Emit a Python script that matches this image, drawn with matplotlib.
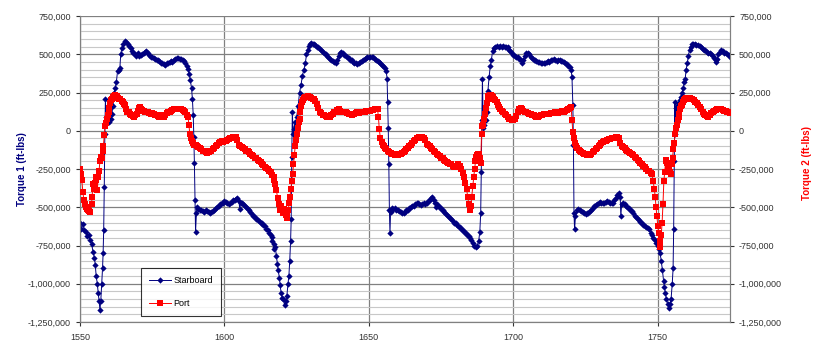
import numpy as np
from matplotlib import pyplot as plt
from matplotlib.ticker import MultipleLocator, FuncFormatter

plt.rcParams["font.family"] = ["Liberation Sans", "DejaVu Sans"]

# starboard torque, (sample, ft-lbs / 1000)
starboard_pts = [
	(1550.0,-600),(1550.5,-640),(1551.0,-610),(1551.5,-650),(1552.0,-660),(1552.5,-690),(1553.0,-680),
	(1553.5,-715),(1554.0,-740),(1554.5,-790),(1555.0,-830),(1555.3,-880),(1555.6,-950),(1556.0,-1000),
	(1556.3,-1060),(1556.6,-1110),(1556.9,-1170),(1557.2,-1110),(1557.5,-1000),(1557.8,-900),(1558.0,-800),
	(1558.2,-650),(1558.4,-370),(1558.6,-20),(1558.8,210),(1559.0,90),(1559.4,60),(1559.8,90),(1560.2,60),
	(1560.6,80),(1561.0,110),(1561.4,160),(1561.8,250),(1562.2,280),(1562.6,320),(1563.0,390),(1563.4,400),
	(1563.8,410),(1564.1,500),(1564.5,540),(1565.0,570),(1565.5,585),(1566.0,580),(1566.5,565),(1567.0,555),
	(1567.5,540),(1568.0,520),(1568.5,510),(1569.0,500),(1569.5,490),(1570.0,505),(1570.5,490),(1571.0,495),
	(1571.5,500),(1572.0,505),(1572.5,515),(1573.0,520),(1573.5,510),(1574.0,495),(1574.5,485),(1575.0,480),
	(1575.5,475),(1576.0,470),(1576.5,465),(1577.0,460),(1577.5,455),(1578.0,445),(1578.5,440),(1579.0,435),
	(1579.5,430),(1580.0,440),(1580.5,445),(1581.0,450),(1581.5,455),(1582.0,450),(1582.5,460),(1583.0,470),
	(1583.5,478),(1584.0,475),(1584.5,470),(1585.0,468),(1585.5,465),(1586.0,455),(1586.5,440),(1587.0,420),
	(1587.4,405),(1587.8,370),(1588.2,330),(1588.6,280),(1588.9,210),(1589.2,100),(1589.4,-40),(1589.6,-210),
	(1589.8,-450),(1590.0,-660),(1590.3,-540),(1590.6,-500),(1591.0,-510),(1591.5,-520),(1592.0,-515),
	(1592.5,-525),(1593.0,-530),(1593.5,-520),(1594.0,-525),(1594.5,-530),(1595.0,-535),(1595.5,-530),
	(1596.0,-525),(1596.5,-515),(1597.0,-505),(1597.5,-500),(1598.0,-495),(1598.5,-480),(1599.0,-475),
	(1599.5,-470),(1600.0,-460),(1600.5,-465),(1601.0,-470),(1601.5,-480),(1602.0,-475),(1602.5,-465),
	(1603.0,-455),(1603.5,-450),(1604.0,-445),(1604.5,-440),(1605.0,-460),(1605.3,-510),(1605.6,-470),
	(1606.0,-470),(1606.5,-480),(1607.0,-490),(1607.5,-500),(1608.0,-510),(1608.5,-520),(1609.0,-530),
	(1609.5,-545),(1610.0,-555),(1610.5,-565),(1611.0,-575),(1611.5,-585),(1612.0,-590),(1612.5,-600),
	(1613.0,-605),(1613.5,-615),(1614.0,-625),(1614.5,-640),(1615.0,-650),(1615.5,-665),(1616.0,-680),
	(1616.3,-720),(1616.6,-695),(1617.0,-740),(1617.3,-770),(1617.6,-760),(1618.0,-820),(1618.3,-870),
	(1618.6,-910),(1619.0,-960),(1619.3,-1010),(1619.6,-1060),(1620.0,-1090),(1620.4,-1100),(1620.8,-1140),
	(1621.2,-1110),(1621.6,-1080),(1622.0,-1000),(1622.3,-950),(1622.6,-850),(1622.9,-720),(1623.1,-580),
	(1623.3,-170),(1623.5,120),(1623.8,-20),(1624.1,10),(1624.4,60),(1624.7,30),(1625.0,90),(1625.5,160),
	(1626.0,250),(1626.5,300),(1627.0,360),(1627.5,400),(1628.0,440),(1628.4,500),(1628.8,530),(1629.2,555),
	(1629.6,570),(1630.0,575),(1630.5,570),(1631.0,565),(1631.5,560),(1632.0,550),(1632.5,545),(1633.0,535),
	(1633.5,525),(1634.0,515),(1634.5,505),(1635.0,500),(1635.5,490),(1636.0,480),(1636.5,470),(1637.0,460),
	(1637.5,455),(1638.0,450),(1638.5,440),(1639.0,460),(1639.5,490),(1640.0,510),(1640.5,515),(1641.0,510),
	(1641.5,495),(1642.0,490),(1642.5,480),(1643.0,475),(1643.5,465),(1644.0,460),(1644.5,450),(1645.0,445),
	(1645.5,440),(1646.0,435),(1646.5,440),(1647.0,450),(1647.5,455),(1648.0,465),(1648.5,470),(1649.0,475),
	(1649.5,480),(1650.0,485),(1650.5,480),(1651.0,485),(1651.5,480),(1652.0,470),(1652.5,460),(1653.0,455),
	(1653.5,450),(1654.0,445),(1654.5,430),(1655.0,420),(1655.5,410),(1656.0,390),(1656.3,340),(1656.5,190),
	(1656.7,20),(1656.9,-220),(1657.1,-520),(1657.3,-670),(1657.5,-530),(1658.0,-505),(1658.5,-510),
	(1659.0,-505),(1659.5,-515),(1660.0,-520),(1660.5,-525),(1661.0,-530),(1661.5,-535),(1662.0,-535),
	(1662.5,-530),(1663.0,-520),(1663.5,-515),(1664.0,-505),(1664.5,-500),(1665.0,-495),(1665.5,-490),
	(1666.0,-480),(1666.5,-475),(1667.0,-470),(1667.5,-480),(1668.0,-485),(1668.5,-480),(1669.0,-475),
	(1669.5,-480),(1670.0,-470),(1670.5,-460),(1671.0,-450),(1671.5,-440),(1672.0,-430),(1672.5,-450),
	(1673.0,-470),(1673.3,-500),(1673.6,-480),(1674.0,-490),(1674.5,-500),(1675.0,-510),(1675.5,-520),
	(1676.0,-530),(1676.5,-540),(1677.0,-550),(1677.5,-560),(1678.0,-570),(1678.5,-580),(1679.0,-590),
	(1679.5,-600),(1680.0,-605),(1680.5,-615),(1681.0,-620),(1681.5,-630),(1682.0,-640),(1682.5,-650),
	(1683.0,-660),(1683.5,-670),(1684.0,-680),(1684.5,-690),(1685.0,-700),(1685.5,-715),(1686.0,-735),
	(1686.5,-750),(1687.0,-760),(1687.5,-755),(1688.0,-720),(1688.4,-660),(1688.7,-540),(1688.9,-270),
	(1689.1,70),(1689.3,340),(1689.6,20),(1690.0,40),(1690.4,70),(1690.8,120),(1691.2,260),(1691.6,350),
	(1692.0,420),(1692.4,460),(1692.8,520),(1693.2,540),(1693.8,550),(1694.5,555),(1695.0,550),(1695.5,555),
	(1696.0,550),(1696.5,552),(1697.0,548),(1697.5,545),(1698.0,545),(1698.5,530),(1699.0,520),(1699.5,505),
	(1700.0,495),(1700.5,490),(1701.0,485),(1701.5,480),(1702.0,470),(1702.5,460),(1703.0,445),(1703.5,460),
	(1704.0,490),(1704.5,505),(1705.0,510),(1705.5,500),(1706.0,485),(1706.5,475),(1707.0,465),(1707.5,460),
	(1708.0,455),(1708.5,450),(1709.0,448),(1709.5,445),(1710.0,440),(1710.5,442),(1711.0,445),(1711.5,450),
	(1712.0,455),(1712.5,450),(1713.0,460),(1713.5,465),(1714.0,468),(1714.5,460),(1715.0,455),(1715.5,465),
	(1716.0,462),(1716.5,455),(1717.0,458),(1717.5,450),(1718.0,445),(1718.5,435),(1719.0,425),(1719.5,415),
	(1720.0,400),(1720.3,350),(1720.6,170),(1720.8,-90),(1721.0,-540),(1721.2,-645),(1721.5,-560),
	(1722.0,-520),(1722.5,-510),(1723.0,-515),(1723.5,-525),(1724.0,-530),(1724.5,-540),(1725.0,-545),
	(1725.5,-540),(1726.0,-535),(1726.5,-525),(1727.0,-515),(1727.5,-505),(1728.0,-495),(1728.5,-485),
	(1729.0,-480),(1729.5,-470),(1730.0,-465),(1730.5,-470),(1731.0,-475),(1731.5,-470),(1732.0,-465),
	(1732.5,-460),(1733.0,-465),(1733.5,-470),(1734.0,-475),(1734.5,-470),(1735.0,-455),(1735.5,-440),
	(1736.0,-420),(1736.5,-405),(1737.0,-430),(1737.2,-560),(1737.5,-480),(1738.0,-475),(1738.5,-480),
	(1739.0,-490),(1739.5,-500),(1740.0,-505),(1740.5,-515),(1741.0,-525),(1741.5,-540),(1742.0,-555),
	(1742.5,-565),(1743.0,-575),(1743.5,-585),(1744.0,-595),(1744.5,-605),(1745.0,-615),(1745.5,-625),
	(1746.0,-630),(1746.5,-635),(1747.0,-645),(1747.5,-665),(1748.0,-680),(1748.5,-700),(1749.0,-715),
	(1749.5,-735),(1750.0,-750),(1750.4,-770),(1750.8,-800),(1751.2,-850),(1751.6,-910),(1752.0,-980),
	(1752.3,-1020),(1752.6,-1060),(1753.0,-1100),(1753.4,-1130),(1753.8,-1160),(1754.2,-1130),(1754.6,-1100),
	(1755.0,-1000),(1755.3,-900),(1755.5,-640),(1755.7,-200),(1755.9,190),(1756.1,-20),(1756.4,150),
	(1756.8,160),(1757.2,180),(1757.6,200),(1758.0,220),(1758.4,250),(1758.8,280),(1759.2,320),(1759.5,340),
	(1759.8,400),(1760.2,440),(1760.6,490),(1761.0,530),(1761.4,550),(1761.8,565),(1762.2,570),(1762.8,565),
	(1763.4,560),(1764.0,560),(1764.5,555),(1765.0,545),(1765.5,535),(1766.0,530),(1766.5,525),(1767.0,515),
	(1767.5,510),(1768.0,505),(1768.5,500),(1769.0,490),(1769.5,475),(1770.0,460),(1770.3,450),(1770.6,470),
	(1771.0,500),(1771.5,515),(1772.0,525),(1772.5,520),(1773.0,510),(1773.5,505),(1774.0,500),(1774.5,495),
	(1775.0,485),
]

# port torque, (sample, ft-lbs / 1000)
port_pts = [
	(1550.0,-250),(1550.3,-280),(1550.6,-320),(1551.0,-400),(1551.3,-450),(1551.6,-480),(1552.0,-500),
	(1552.4,-510),(1552.8,-520),(1553.2,-525),(1553.6,-530),(1554.0,-480),(1554.2,-430),(1554.5,-350),
	(1554.8,-380),(1555.1,-340),(1555.4,-320),(1555.7,-300),(1556.0,-390),(1556.3,-300),(1556.6,-260),
	(1556.9,-200),(1557.2,-170),(1557.5,-180),(1557.8,-130),(1558.1,-100),(1558.4,-30),(1558.7,30),
	(1559.0,50),(1559.3,80),(1559.6,100),(1559.9,120),(1560.2,150),(1560.5,180),(1560.8,200),(1561.1,210),
	(1561.4,220),(1561.7,230),(1562.0,235),(1562.4,230),(1562.8,225),(1563.2,215),(1563.6,210),(1564.0,205),
	(1564.4,195),(1564.8,185),(1565.2,175),(1565.6,170),(1566.0,140),(1566.4,125),(1566.8,120),(1567.2,110),
	(1567.6,105),(1568.0,100),(1568.4,95),(1568.8,92),(1569.2,100),(1569.6,110),(1570.0,130),(1570.4,150),
	(1570.8,155),(1571.2,145),(1571.6,135),(1572.0,130),(1572.5,125),(1573.0,125),(1573.5,120),(1574.0,115),
	(1574.5,110),(1575.0,115),(1575.5,110),(1576.0,105),(1576.5,100),(1577.0,95),(1577.5,90),(1578.0,95),
	(1578.5,100),(1579.0,92),(1579.5,105),(1580.0,115),(1580.5,120),(1581.0,125),(1581.5,130),(1582.0,135),
	(1582.5,140),(1583.0,145),(1583.5,145),(1584.0,140),(1584.5,145),(1585.0,140),(1585.5,135),(1586.0,130),
	(1586.5,120),(1587.0,105),(1587.4,90),(1587.7,40),(1588.0,-20),(1588.4,-50),(1588.8,-70),(1589.2,-80),
	(1589.6,-90),(1590.0,-95),(1590.5,-100),(1591.0,-105),(1591.5,-110),(1592.0,-120),(1592.5,-130),
	(1593.0,-135),(1593.5,-140),(1594.0,-145),(1594.5,-140),(1595.0,-135),(1595.5,-130),(1596.0,-120),
	(1596.5,-110),(1597.0,-100),(1597.5,-90),(1598.0,-80),(1598.5,-72),(1599.0,-70),(1599.5,-72),(1600.0,-70),
	(1600.5,-65),(1601.0,-60),(1601.5,-55),(1602.0,-50),(1602.5,-45),(1603.0,-42),(1603.5,-38),(1604.0,-40),
	(1604.5,-60),(1605.0,-90),(1605.5,-100),(1606.0,-105),(1606.5,-115),(1607.0,-120),(1607.5,-130),
	(1608.0,-135),(1608.5,-140),(1609.0,-150),(1609.5,-160),(1610.0,-165),(1610.5,-175),(1611.0,-180),
	(1611.5,-190),(1612.0,-200),(1612.5,-205),(1613.0,-215),(1613.5,-225),(1614.0,-235),(1614.5,-245),
	(1615.0,-250),(1615.5,-260),(1616.0,-270),(1616.5,-290),(1617.0,-320),(1617.3,-300),(1617.6,-350),
	(1618.0,-390),(1618.4,-440),(1618.8,-480),(1619.1,-520),(1619.4,-500),(1619.7,-490),(1620.0,-520),
	(1620.3,-540),(1620.6,-510),(1620.9,-530),(1621.2,-550),(1621.5,-560),(1621.8,-570),(1622.1,-520),
	(1622.4,-470),(1622.7,-430),(1623.0,-380),(1623.3,-330),(1623.6,-280),(1623.9,-220),(1624.2,-160),
	(1624.5,-100),(1624.8,-60),(1625.1,-20),(1625.4,20),(1625.7,60),(1626.0,80),(1626.3,120),(1626.6,160),
	(1626.9,190),(1627.2,200),(1627.6,215),(1628.0,220),(1628.4,222),(1628.8,225),(1629.2,222),(1629.6,218),
	(1630.0,215),(1630.5,210),(1631.0,205),(1631.5,195),(1632.0,175),(1632.5,150),(1633.0,125),(1633.5,115),
	(1634.0,105),(1634.5,100),(1635.0,95),(1635.5,90),(1636.0,88),(1636.5,92),(1637.0,100),(1637.5,110),
	(1638.0,120),(1638.5,125),(1639.0,135),(1639.5,140),(1640.0,130),(1640.5,125),(1641.0,120),(1641.5,125),
	(1642.0,120),(1642.5,115),(1643.0,110),(1643.5,108),(1644.0,105),(1644.5,110),(1645.0,112),(1645.5,115),
	(1646.0,120),(1646.5,118),(1647.0,122),(1647.5,125),(1648.0,120),(1648.5,125),(1649.0,128),(1649.5,130),
	(1650.0,132),(1650.5,130),(1651.0,135),(1651.5,138),(1652.0,140),(1652.5,145),(1653.0,140),(1653.3,90),
	(1653.6,10),(1654.0,-50),(1654.4,-75),(1654.8,-90),(1655.2,-100),(1655.6,-110),(1656.0,-120),
	(1656.5,-130),(1657.0,-140),(1657.5,-145),(1658.0,-150),(1658.5,-155),(1659.0,-158),(1659.5,-160),
	(1660.0,-158),(1660.5,-155),(1661.0,-150),(1661.5,-145),(1662.0,-138),(1662.5,-130),(1663.0,-120),
	(1663.5,-110),(1664.0,-100),(1664.5,-90),(1665.0,-80),(1665.5,-70),(1666.0,-60),(1666.5,-50),(1667.0,-45),
	(1667.5,-40),(1668.0,-38),(1668.5,-40),(1669.0,-45),(1669.5,-60),(1670.0,-85),(1670.5,-95),(1671.0,-100),
	(1671.5,-110),(1672.0,-120),(1672.5,-130),(1673.0,-140),(1673.5,-150),(1674.0,-160),(1674.5,-165),
	(1675.0,-175),(1675.5,-180),(1676.0,-190),(1676.5,-195),(1677.0,-205),(1677.5,-210),(1678.0,-215),
	(1678.5,-220),(1679.0,-230),(1679.5,-235),(1680.0,-240),(1680.5,-235),(1681.0,-215),(1681.5,-230),
	(1682.0,-250),(1682.5,-275),(1683.0,-300),(1683.4,-340),(1683.8,-380),(1684.2,-430),(1684.6,-480),
	(1685.0,-520),(1685.3,-490),(1685.6,-430),(1686.0,-360),(1686.3,-300),(1686.6,-250),(1686.9,-200),
	(1687.2,-170),(1687.5,-160),(1687.8,-150),(1688.1,-150),(1688.4,-180),(1688.7,-210),(1689.0,-20),
	(1689.3,30),(1689.6,40),(1689.9,80),(1690.2,110),(1690.5,150),(1690.8,180),(1691.1,210),(1691.4,225),
	(1691.8,235),(1692.2,235),(1692.6,230),(1693.0,220),(1693.4,210),(1693.8,200),(1694.2,185),(1694.6,170),
	(1695.0,155),(1695.5,140),(1696.0,130),(1696.5,120),(1697.0,110),(1697.5,100),(1698.0,90),(1698.5,80),
	(1699.0,75),(1699.5,70),(1700.0,72),(1700.5,80),(1701.0,95),(1701.5,120),(1702.0,145),(1702.5,150),
	(1703.0,140),(1703.5,130),(1704.0,125),(1704.5,120),(1705.0,115),(1705.5,110),(1706.0,108),(1706.5,105),
	(1707.0,100),(1707.5,95),(1708.0,92),(1708.5,90),(1709.0,95),(1709.5,100),(1710.0,105),(1710.5,108),
	(1711.0,110),(1711.5,112),(1712.0,110),(1712.5,112),(1713.0,115),(1713.5,118),(1714.0,115),(1714.5,120),
	(1715.0,122),(1715.5,118),(1716.0,122),(1716.5,125),(1717.0,128),(1717.5,125),(1718.0,130),(1718.5,135),
	(1719.0,145),(1719.5,150),(1720.0,155),(1720.3,70),(1720.6,-10),(1721.0,-50),(1721.4,-80),(1721.8,-100),
	(1722.2,-115),(1722.6,-125),(1723.0,-130),(1723.5,-140),(1724.0,-145),(1724.5,-150),(1725.0,-155),
	(1725.5,-158),(1726.0,-160),(1726.5,-158),(1727.0,-152),(1727.5,-140),(1728.0,-130),(1728.5,-120),
	(1729.0,-110),(1729.5,-100),(1730.0,-90),(1730.5,-80),(1731.0,-75),(1731.5,-70),(1732.0,-65),(1732.5,-60),
	(1733.0,-55),(1733.5,-52),(1734.0,-50),(1734.5,-48),(1735.0,-45),(1735.5,-42),(1736.0,-40),(1736.5,-45),
	(1737.0,-80),(1737.5,-100),(1738.0,-105),(1738.5,-115),(1739.0,-125),(1739.5,-130),(1740.0,-140),
	(1740.5,-145),(1741.0,-150),(1741.5,-160),(1742.0,-170),(1742.5,-180),(1743.0,-190),(1743.5,-200),
	(1744.0,-210),(1744.5,-220),(1745.0,-230),(1745.5,-240),(1746.0,-250),(1746.5,-260),(1747.0,-265),
	(1747.5,-275),(1748.0,-280),(1748.4,-330),(1748.8,-380),(1749.1,-430),(1749.4,-500),(1749.7,-560),
	(1750.0,-620),(1750.3,-670),(1750.6,-720),(1750.9,-760),(1751.2,-680),(1751.5,-600),(1751.8,-480),
	(1752.1,-330),(1752.4,-270),(1752.7,-200),(1753.0,-190),(1753.3,-210),(1753.6,-240),(1753.9,-250),
	(1754.2,-270),(1754.5,-280),(1754.8,-220),(1755.1,-180),(1755.4,-120),(1755.7,-80),(1756.0,-20),
	(1756.3,20),(1756.6,40),(1756.9,70),(1757.2,90),(1757.5,110),(1757.8,140),(1758.1,160),(1758.4,170),
	(1758.7,190),(1759.0,200),(1759.4,210),(1759.8,215),(1760.2,215),(1760.6,212),(1761.0,215),(1761.5,210),
	(1762.0,205),(1762.5,200),(1763.0,190),(1763.5,180),(1764.0,170),(1764.5,155),(1765.0,140),(1765.5,125),
	(1766.0,110),(1766.5,100),(1767.0,95),(1767.5,92),(1768.0,100),(1768.5,115),(1769.0,125),(1769.5,130),
	(1770.0,135),(1770.5,140),(1771.0,145),(1771.5,140),(1772.0,145),(1772.5,135),(1773.0,130),(1773.5,128),
	(1774.0,125),(1774.5,120),(1775.0,115),
]

x_ticks = [1550, 1600, 1650, 1700, 1750]
y_min, y_max = -1250000, 750000

stb = np.array(starboard_pts, dtype=float)
prt = np.array(port_pts, dtype=float)

fig = plt.figure(figsize=(8.23, 3.51), dpi=100)
ax = fig.add_axes([0.0972, 0.0826, 0.7898, 0.8718])
ax2 = ax.twinx()

navy = "#000080"
red = "#ff0000"

l1, = ax.plot(stb[:, 0], stb[:, 1] * 1000, color=navy, lw=0.7, marker="D", ms=3.2,
	markeredgewidth=0, label="Starboard", zorder=3)
l2, = ax2.plot(prt[:, 0], prt[:, 1] * 1000, color=red, lw=0.7, marker="s", ms=3.8,
	markeredgewidth=0, label="Port", zorder=3)

fmt = FuncFormatter(lambda v, p: "{:,.0f}".format(v) if v != 0 else "0")
for a in (ax, ax2):
	a.set_ylim(y_min, y_max)
	a.yaxis.set_major_locator(MultipleLocator(250000))
	a.yaxis.set_major_formatter(fmt)
	a.tick_params(axis="y", labelsize=6.5, colors="#333333", length=3, width=0.8, direction="out")
ax.set_xlim(1550, 1775)
ax.set_xticks(x_ticks)
ax.tick_params(axis="x", labelsize=6.5, colors="#333333", length=3, width=0.8, direction="out", pad=5)
ax.yaxis.set_minor_locator(MultipleLocator(50000))
ax.tick_params(axis="y", which="minor", length=0)

ax.grid(True, which="major", axis="both", color="#808080", lw=0.9)
ax.grid(True, which="minor", axis="y", color="#c8c8c8", lw=0.8)
ax.set_axisbelow(True)

for a in (ax, ax2):
	for s in a.spines.values():
		s.set_color("#808080")
		s.set_linewidth(0.8)
	a.spines["top"].set_visible(False)

ax.set_ylabel("Torque 1 (ft-lbs)", color=navy, fontsize=7, fontweight="bold")
ax.yaxis.set_label_coords(-0.082, 0.5)
ax2.set_ylabel("Torque 2 (ft-lbs)", color=red, fontsize=7, fontweight="bold")
ax2.yaxis.set_label_coords(1.11, 0.52)

leg = ax.legend(handles=[l1, l2], loc="lower left", bbox_to_anchor=(0.094, 0.018),
	fontsize=6.5, frameon=True, fancybox=False, borderpad=0.9, labelspacing=1.6,
	handlelength=2.4, handletextpad=0.3, borderaxespad=0)
leg.get_frame().set_edgecolor("#000000")
leg.get_frame().set_linewidth(0.8)
leg.set_zorder(10)

fig.savefig("out.png", dpi=100)
